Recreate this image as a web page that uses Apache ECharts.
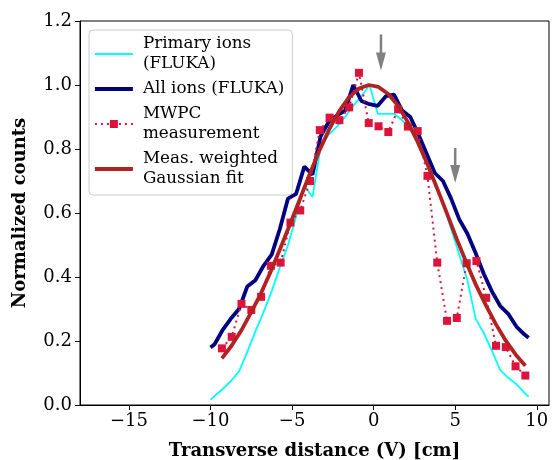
<!DOCTYPE html>
<html><head><meta charset="utf-8">
<script src="https://cdn.jsdelivr.net/npm/echarts@6/dist/echarts.min.js"></script>
<style>html,body{margin:0;padding:0;background:#fff}#c{width:552px;height:460px}</style>
</head><body><div id="c"></div>
<script>
// FLUKA simulation x positions (cm)
const flukaX = [-10, -9.75, -9.25, -8.75, -8.25, -7.75, -7.25, -6.75, -6.25, -5.75, -5.25, -4.75, -4.25, -3.75, -3.25, -2.75, -2.25, -1.75, -1.25, -0.75, -0.25,
  0.25, 0.75, 1.25, 1.75, 2.25, 2.75, 3.25, 3.75, 4.25, 4.75, 5.25, 5.75, 6.25, 6.75, 7.25, 7.75, 8.25, 8.75, 9.25, 9.5];
const primaryIons = [0.016, 0.028, 0.05, 0.075, 0.105, 0.165, 0.23, 0.29, 0.355, 0.43, 0.50, 0.59, 0.685, 0.65, 0.805, 0.845, 0.87, 0.90, 0.935, 0.965, 1.0,
  0.91, 0.91, 0.91, 0.89, 0.862, 0.82, 0.76, 0.70, 0.63, 0.55, 0.47, 0.39, 0.27, 0.225, 0.17, 0.11, 0.085, 0.065, 0.038, 0.026];
const allIons = [0.18, 0.19, 0.235, 0.27, 0.30, 0.37, 0.39, 0.435, 0.47, 0.55, 0.645, 0.66, 0.745, 0.72, 0.84, 0.885, 0.905, 0.92, 1.0, 0.95, 0.94,
  0.935, 0.965, 0.97, 0.92, 0.90, 0.845, 0.785, 0.725, 0.70, 0.645, 0.58, 0.535, 0.475, 0.41, 0.355, 0.31, 0.285, 0.245, 0.22, 0.21];
// MWPC wire positions (cm) and measurement
const mwpcX = [-9.3, -8.7, -8.1, -7.5, -6.9, -6.3, -5.7, -5.1, -4.5, -3.9, -3.3, -2.7, -2.1, -1.5, -0.9, -0.3,
  0.3, 0.9, 1.5, 2.1, 2.7, 3.3, 3.9, 4.5, 5.1, 5.7, 6.3, 6.9, 7.5, 8.1, 8.7, 9.3];
const mwpcY = [0.177, 0.213, 0.316, 0.297, 0.338, 0.435, 0.445, 0.570, 0.608, 0.700, 0.859, 0.898, 0.890, 0.930, 1.038, 0.881,
  0.871, 0.853, 0.924, 0.870, 0.856, 0.716, 0.445, 0.263, 0.272, 0.443, 0.450, 0.335, 0.185, 0.181, 0.121, 0.092];
const fitY = [0.146, 0.186, 0.234, 0.290, 0.350, 0.418, 0.492, 0.568, 0.646, 0.724, 0.798, 0.864, 0.919, 0.962, 0.989, 1.000,
  0.994, 0.972, 0.935, 0.884, 0.822, 0.752, 0.676, 0.598, 0.518, 0.443, 0.372, 0.310, 0.252, 0.201, 0.158, 0.123];
const xTicks = [-15, -10, -5, 0, 5, 10];
// Annotation arrows (x, tail y, tip y)
const arrowX = [0.45, 5.0];
const arrowTail = [1.158, 0.803];
const arrowTip = [1.045, 0.694];

const pair = (xs, ys) => xs.map((x, i) => [x, ys[i]]);
const serif = 'DejaVu Serif';
const minus = v => String(v).replace('-', '\u2212');
const names = ['Primary ions\n(FLUKA)', 'All ions (FLUKA)', 'MWPC\nmeasurement', 'Meas. weighted\nGaussian fit'];
const hidden = {opacity: 0, color: 'rgba(0,0,0,0)', borderWidth: 0};

const chart = echarts.init(document.getElementById('c'), null, {renderer: 'canvas'});
chart.setOption({
  animation: false,
  backgroundColor: '#fff',
  grid: {left: 80, right: 3, top: 21, bottom: 55, show: true, borderColor: '#000', borderWidth: 1,
         containLabel: false, outerBoundsMode: 'none'},
  legend: {
    data: [
      {name: names[0], itemStyle: hidden, lineStyle: {width: 1.8}},
      {name: names[1], itemStyle: hidden, lineStyle: {width: 3.8}},
      {name: names[2]},
      {name: names[3], itemStyle: hidden, lineStyle: {width: 3.8}}
    ],
    orient: 'vertical', left: 89, top: 30,
    padding: [4, 8, 6, 4],
    itemGap: 5, itemWidth: 38, itemHeight: 10,
    backgroundColor: 'rgba(255,255,255,0.85)', borderColor: '#cccccc', borderWidth: 1, borderRadius: 4,
    textStyle: {fontFamily: serif, fontSize: 16.8, lineHeight: 20, color: '#000', padding: [0, 0, 0, 5]}
  },
  xAxis: {
    type: 'value', min: -18, max: 10.75,
    name: 'Transverse distance (V) [cm]', nameLocation: 'middle', nameGap: 37,
    nameTextStyle: {fontFamily: serif, fontSize: 18, fontWeight: 'bold', color: '#000'},
    axisLine: {show: true, onZero: false, lineStyle: {color: '#000'}},
    axisTick: {show: true, inside: false, length: 5, lineStyle: {color: '#000'}, customValues: xTicks},
    axisLabel: {fontFamily: serif, fontSize: 18, color: '#000', margin: 7, customValues: xTicks, formatter: v => minus(v)},
    splitLine: {show: false}
  },
  yAxis: {
    type: 'value', min: 0, max: 1.2, interval: 0.2,
    name: 'Normalized counts', nameLocation: 'middle', nameGap: 51,
    nameTextStyle: {fontFamily: serif, fontSize: 18, fontWeight: 'bold', color: '#000'},
    axisLine: {show: true, onZero: false, lineStyle: {color: '#000'}},
    axisTick: {show: true, inside: false, length: 5, lineStyle: {color: '#000'}},
    axisLabel: {fontFamily: serif, fontSize: 18, color: '#000', margin: 8, formatter: v => v.toFixed(1)},
    splitLine: {show: false}
  },
  series: [
    {name: names[0], type: 'line', data: pair(flukaX, primaryIons), symbol: 'none', z: 2,
     lineStyle: {color: '#00ffff', width: 1.8}, itemStyle: {color: '#00ffff'}},
    {name: names[1], type: 'line', data: pair(flukaX, allIons), symbol: 'none', z: 3,
     lineStyle: {color: '#000080', width: 3.8}, itemStyle: {color: '#000080'}},
    {name: names[2], type: 'line', data: pair(mwpcX, mwpcY), symbol: 'rect', symbolSize: 8, z: 4,
     lineStyle: {color: '#dc143c', width: 2, type: [2, 4]}, itemStyle: {color: '#dc143c'}},
    {name: names[3], type: 'line', data: pair(mwpcX, fitY), symbol: 'none', z: 5,
     lineStyle: {color: '#b22222', width: 3.8}, itemStyle: {color: '#b22222'}},
    {name: 'arrows', type: 'custom', z: 6, silent: true,
     data: arrowX.map((x, i) => [x, arrowTail[i], arrowTip[i]]),
     renderItem: (params, api) => {
       const t = api.coord([api.value(0), api.value(1)]);
       const p = api.coord([api.value(0), api.value(2)]);
       const headL = 18, headW = 5;
       return {type: 'group', children: [
         {type: 'line', shape: {x1: t[0], y1: t[1], x2: p[0], y2: p[1] - headL + 2}, style: {stroke: '#808080', lineWidth: 2.5}},
         {type: 'polygon', shape: {points: [[p[0] - headW, p[1] - headL], [p[0] + headW, p[1] - headL], [p[0], p[1]]]}, style: {fill: '#808080'}}
       ]};
     }}
  ]
});
</script></body></html>
